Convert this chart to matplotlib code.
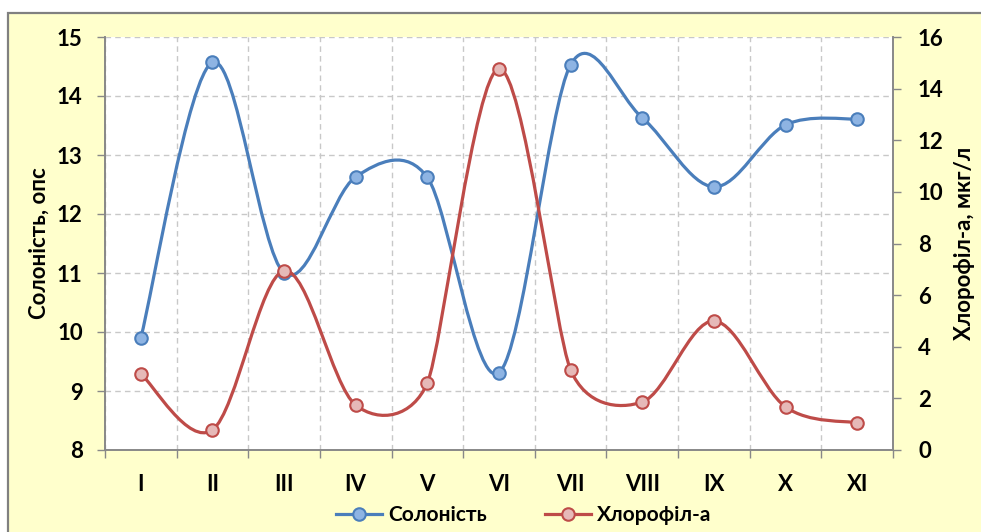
import matplotlib
matplotlib.use("Agg")
import numpy as np
import matplotlib.pyplot as plt
from matplotlib.path import Path
from matplotlib.patches import PathPatch, Rectangle
from matplotlib.lines import Line2D

plt.rcParams['font.family'] = ['Lato', 'Noto Sans', 'DejaVu Sans']
plt.rcParams['font.weight'] = 'bold'

# Місяці та виміряні показники
months = ["I", "II", "III", "IV", "V", "VI", "VII", "VIII", "IX", "X", "XI"]
salinity = [9.90, 14.57, 11.00, 12.63, 12.62, 9.31, 14.53, 13.63, 12.46, 13.51, 13.61]
chlorophyll = [2.95, 0.78, 6.94, 1.74, 2.60, 14.77, 3.10, 1.86, 5.00, 1.67, 1.05]

BLUE, BLUE_FILL = "#4A7EBB", "#8EB4E3"
RED, RED_FILL = "#BE4B48", "#E6B9B8"
BG = "#FFFFCC"
FS = 16


def smooth_path(ax, xs, ys):
    # згладжування як в Excel: кубічні Безьє, дотична вздовж P[i+1]-P[i-1],
    # довжина ручки min(|P[i+1]-P[i-1]|/6, min(d01, d12)/2) у пікселях
    pts = ax.transData.transform(np.column_stack([xs, ys]))
    n = len(pts)

    def handle(i, direction):
        p_prev = pts[max(i - 1, 0)]
        p_next = pts[min(i + 1, n - 1)]
        t = p_next - p_prev
        d02 = np.hypot(*t)
        if d02 == 0:
            return pts[i]
        length = d02 / 6
        if 0 < i < n - 1:
            d01 = np.hypot(*(pts[i] - p_prev))
            d12 = np.hypot(*(p_next - pts[i]))
            length = min(length, min(d01, d12) / 2)
        return pts[i] + direction * t / d02 * length

    verts = [pts[0]]
    codes = [Path.MOVETO]
    for i in range(n - 1):
        verts += [handle(i, 1), handle(i + 1, -1), pts[i + 1]]
        codes += [Path.CURVE4] * 3
    verts = ax.transData.inverted().transform(np.array(verts))
    return Path(verts, codes)


fig = plt.figure(figsize=(9.81, 5.32), dpi=100)
fig.patch.set_facecolor("white")
fig.patches.append(Rectangle((8 / 981, -0.1), 1.2, (532 - 13) / 532 + 0.1,
                             transform=fig.transFigure, facecolor=BG,
                             edgecolor="#808080", linewidth=1.6, zorder=-10))

ax = fig.add_axes([105 / 981, 82 / 532, 788 / 981, 413 / 532])
ax.set_facecolor("white")
ax2 = ax.twinx()

x = list(range(len(months)))
ax.set_xlim(-0.5, len(months) - 0.5)
ax.set_ylim(8, 15)
ax2.set_ylim(0, 16)
ax.set_yticks(range(8, 16))
ax2.set_yticks(range(0, 17, 2))

ax.add_patch(PathPatch(smooth_path(ax, x, salinity), facecolor="none",
                       edgecolor=BLUE, linewidth=2.3, zorder=3))
ax.plot(x, salinity, linestyle="none", marker="o", markersize=9,
        markerfacecolor=BLUE_FILL, markeredgecolor=BLUE, markeredgewidth=1.5, zorder=4)

ax2.add_patch(PathPatch(smooth_path(ax2, x, chlorophyll), facecolor="none",
                        edgecolor=RED, linewidth=2.3, zorder=3))
ax2.plot(x, chlorophyll, linestyle="none", marker="o", markersize=9,
         markerfacecolor=RED_FILL, markeredgecolor=RED, markeredgewidth=1.5, zorder=4)

# підписи місяців по центрах, риски та сітка по межах категорій
ax.set_xticks(x)
ax.set_xticklabels(months)
ax.set_xticks([i - 0.5 for i in range(len(months) + 1)], minor=True)
ax.tick_params(axis="x", which="major", length=0, pad=17, labelsize=FS)
ax.tick_params(axis="x", which="minor", length=6, color="#888888", width=1)
ax.grid(True, which="minor", axis="x", color="#C8C8C8", linestyle=(0, (4, 3)), linewidth=1)
ax.grid(True, which="major", axis="y", color="#C8C8C8", linestyle=(0, (4, 3)), linewidth=1)
ax.tick_params(axis="y", length=6, color="#888888", width=1, labelsize=FS, pad=10)
ax2.tick_params(axis="y", length=6, color="#888888", width=1, labelsize=FS, pad=12)

for a in (ax, ax2):
    a.spines["top"].set_visible(False)
    for s in ("left", "right", "bottom"):
        a.spines[s].set_color("#888888")
        a.spines[s].set_linewidth(1.2)

ax.set_ylabel("Солоність, опс", fontsize=FS, fontweight="bold")
ax2.set_ylabel("Хлорофіл-а, мкг/л", fontsize=FS, fontweight="bold")
ax.yaxis.set_label_coords(-0.07, 0.5)
ax2.yaxis.set_label_coords(1.077, 0.5)

handles = [
    Line2D([], [], color=BLUE, linewidth=2.3, marker="o", markersize=9,
           markerfacecolor=BLUE_FILL, markeredgecolor=BLUE, markeredgewidth=1.5),
    Line2D([], [], color=RED, linewidth=2.3, marker="o", markersize=9,
           markerfacecolor=RED_FILL, markeredgecolor=RED, markeredgewidth=1.5),
]
fig.legend(handles, ["Солоність", "Хлорофіл-а"], loc="center", bbox_to_anchor=(0.534, 17 / 532),
           ncol=2, frameon=False, handlelength=2.2, columnspacing=2.8,
           handletextpad=0.3, prop={"weight": "bold", "size": 15})

fig.savefig("out.png", dpi=100, facecolor=fig.get_facecolor())
